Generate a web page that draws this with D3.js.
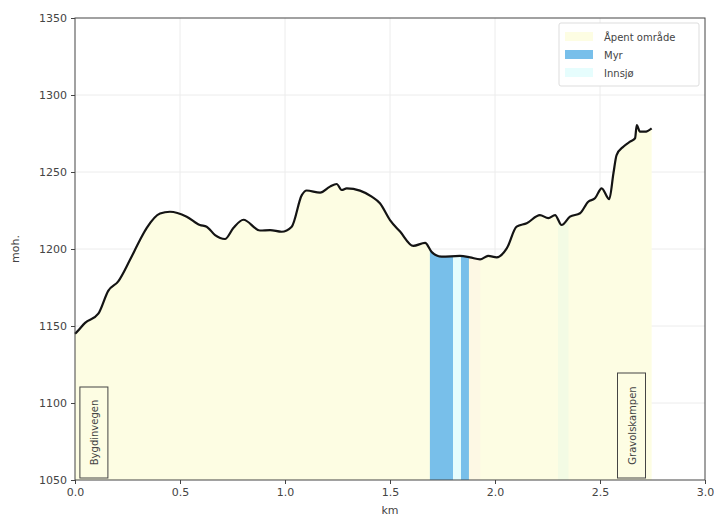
<!DOCTYPE html>
<html>
<head>
<meta charset="utf-8">
<script src="https://cdn.jsdelivr.net/npm/d3@7"></script>
<style>
    body { margin: 0; background: #fff; }
    text { font-family: "DejaVu Sans", sans-serif; }
</style>
</head>
<body>
<div id="chart"></div>
<script>
    "use strict";
    //profile values
    var distKm = [0, 0.008, 0.048, 0.111, 0.159, 0.206, 0.262, 0.31, 0.341, 0.405, 0.452, 0.532, 0.595, 0.627,
        0.667, 0.714, 0.754, 0.802, 0.881, 0.929, 0.984, 1.032, 1.08, 1.103, 1.167, 1.214, 1.246, 1.27, 1.294,
        1.357, 1.413, 1.452, 1.5, 1.548, 1.611, 1.667, 1.699, 1.746, 1.833, 1.881, 1.929, 1.968, 2.008, 2.056,
        2.103, 2.151, 2.214, 2.254, 2.286, 2.317, 2.357, 2.405, 2.444, 2.476, 2.508, 2.544, 2.564, 2.579, 2.611,
        2.643, 2.667, 2.675, 2.69, 2.714, 2.746];
    var elevation = [1145, 1146, 1152, 1158, 1173, 1179, 1193, 1206, 1213.5, 1223, 1224.2, 1221, 1215.6, 1214.5,
        1209, 1206.5, 1213.6, 1219, 1212, 1212.3, 1211.2, 1214.5, 1235, 1238, 1236.6, 1240.5, 1242.2, 1238.3, 1239.4,
        1237.9, 1234, 1229.7, 1218.8, 1211.3, 1202, 1204, 1198, 1195, 1195.5, 1194.6, 1193.3, 1195.5, 1194.6, 1200.4,
        1214.5, 1216.7, 1222, 1220, 1222, 1215.6, 1221, 1223.2, 1230.7, 1232.9, 1239.4, 1232.3, 1249.2, 1261, 1266.4,
        1269.7, 1271.9, 1280.5, 1276.2, 1276.2, 1278.4];

    //land cover segments along the profile
    var segStart = [1.69, 1.80, 1.838, 1.876, 2.30];
    var segEnd   = [1.80, 1.838, 1.876, 1.93, 2.35];
    var segType  = ["Myr", "Innsjø", "Myr", "Kant", "Gras"];

    var legendLabels = ["Åpent område", "Myr", "Innsjø"];
    var placeNames = ["Bygdinvegen", "Gravolskampen"];
    var placeKm = [0.09, 2.65];

    var xTicks = [0, 0.5, 1.0, 1.5, 2.0, 2.5, 3.0];
    var yTicks = [1050, 1100, 1150, 1200, 1250, 1300, 1350];

    var width = 714, height = 522;
    var margin = {left: 75, right: 9, top: 18, bottom: 42};
    var colors = {"Åpent område": "#fdfde3", "Myr": "#78bfea", "Innsjø": "#e6fdfd", "Kant": "#fdf8e4", "Gras": "#f3fbe4"};

    var svg = d3.select("#chart")
        .append("svg")
        .attr("xmlns", "http://www.w3.org/2000/svg")
        .attr("width", width)
        .attr("height", height);

    var x = d3.scaleLinear().domain([0, 3]).range([margin.left, width - margin.right]);
    var y = d3.scaleLinear().domain([1050, 1350]).range([height - margin.bottom, margin.top]);

    var pts = distKm.map(function(d, i){ return [d, elevation[i]]; });

    //grid
    svg.append("g").selectAll("line.gx")
        .data(xTicks.slice(1, -1))
        .enter().append("line")
        .attr("x1", function(d){ return x(d); }).attr("x2", function(d){ return x(d); })
        .attr("y1", y(1050)).attr("y2", y(1350))
        .style("stroke", "#ececec").style("stroke-width", 1);
    svg.append("g").selectAll("line.gy")
        .data(yTicks.slice(1, -1))
        .enter().append("line")
        .attr("x1", x(0)).attr("x2", x(3))
        .attr("y1", function(d){ return y(d); }).attr("y2", function(d){ return y(d); })
        .style("stroke", "#ececec").style("stroke-width", 1);

    //area under profile
    var area = d3.area()
        .curve(d3.curveMonotoneX)
        .x(function(d){ return x(d[0]); })
        .y0(y(1050))
        .y1(function(d){ return y(d[1]); });

    svg.append("path")
        .datum(pts)
        .attr("d", area)
        .style("fill", colors["Åpent område"]);

    //land cover segments clipped to the profile
    svg.append("clipPath").attr("id", "under")
        .append("path").datum(pts).attr("d", area);

    svg.append("g")
        .attr("clip-path", "url(#under)")
        .selectAll("rect")
        .data(segStart)
        .enter().append("rect")
        .attr("x", function(d){ return x(d); })
        .attr("width", function(d, i){ return x(segEnd[i]) - x(d); })
        .attr("y", y(1350))
        .attr("height", y(1050) - y(1350))
        .style("fill", function(d, i){ return colors[segType[i]]; });

    //profile line
    svg.append("path")
        .datum(pts)
        .attr("d", d3.line().curve(d3.curveMonotoneX).x(function(d){ return x(d[0]); }).y(function(d){ return y(d[1]); }))
        .style("fill", "none")
        .style("stroke", "#141414")
        .style("stroke-width", 2.2)
        .style("stroke-linejoin", "round");

    //axes
    var xAxis = svg.append("g")
        .attr("transform", "translate(0," + y(1050) + ")")
        .call(d3.axisBottom(x).tickValues(xTicks).tickFormat(d3.format(".1f")).tickSize(4).tickPadding(4));
    var yAxis = svg.append("g")
        .attr("transform", "translate(" + x(0) + ",0)")
        .call(d3.axisLeft(y).tickValues(yTicks).tickFormat(d3.format("d")).tickSize(4).tickPadding(4));
    [xAxis, yAxis].forEach(function(a){
        a.select(".domain").remove();
        a.selectAll("text").style("font-size", "11px").style("fill", "#444").style("font-family", "DejaVu Sans, sans-serif");
        a.selectAll("line").style("stroke", "#444");
    });

    //frame
    svg.append("rect")
        .attr("x", x(0)).attr("y", y(1350))
        .attr("width", x(3) - x(0)).attr("height", y(1050) - y(1350))
        .style("fill", "none").style("stroke", "#444").style("stroke-width", 1);

    svg.append("text")
        .attr("x", (x(0) + x(3)) / 2).attr("y", 514)
        .attr("text-anchor", "middle")
        .style("font-size", "11px").style("fill", "#444")
        .text("km");
    svg.append("text")
        .attr("transform", "translate(19," + y(1200) + ") rotate(-90)")
        .attr("text-anchor", "middle")
        .style("font-size", "11px").style("fill", "#444")
        .text("moh.");

    //place names in boxes
    var places = svg.append("g").selectAll("g.place")
        .data(placeNames)
        .enter().append("g")
        .attr("class", "place");
    places.append("rect")
        .attr("x", function(d, i){ return x(placeKm[i]) - 14; })
        .attr("y", function(d, i){ return i == 0 ? 387 : 373; })
        .attr("width", 28)
        .attr("height", function(d, i){ return i == 0 ? 91 : 105; })
        .style("fill", "none").style("stroke", "#444").style("stroke-width", 1);
    places.append("text")
        .attr("transform", function(d, i){
            var cy = i == 0 ? 432.5 : 425.5;
            return "translate(" + (x(placeKm[i]) + 4) + "," + cy + ") rotate(-90)";
        })
        .attr("text-anchor", "middle")
        .style("font-size", "10px").style("fill", "#444")
        .text(function(d){ return d; });

    //legend
    var legend = svg.append("g").attr("transform", "translate(559,23)");
    legend.append("rect")
        .attr("width", 140).attr("height", 63).attr("rx", 2)
        .style("fill", "#fff").style("stroke", "#ddd");
    var items = legend.selectAll("g.item")
        .data(legendLabels)
        .enter().append("g")
        .attr("class", "item")
        .attr("transform", function(d, i){ return "translate(6," + (9 + i * 18) + ")"; });
    items.append("rect")
        .attr("width", 28).attr("height", 9)
        .style("fill", function(d){ return colors[d]; });
    items.append("text")
        .attr("x", 39).attr("y", 8.5)
        .style("font-size", "10px").style("fill", "#444")
        .text(function(d){ return d; });
</script>
</body>
</html>
